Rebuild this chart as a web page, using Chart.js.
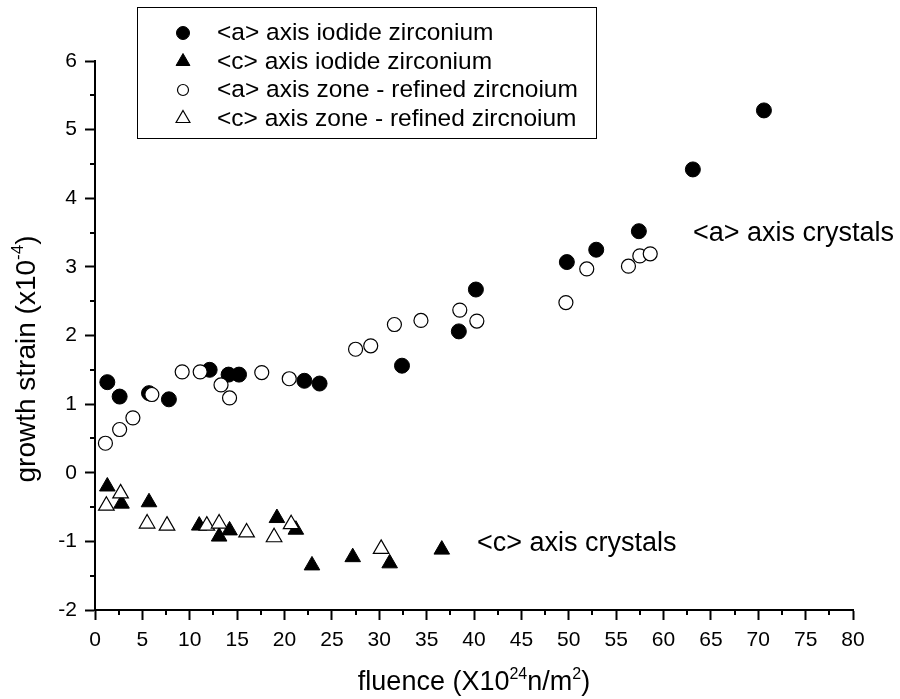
<!DOCTYPE html>
<html>
<head>
<meta charset="utf-8">
<title>Growth strain vs fluence</title>
<script src="https://cdn.jsdelivr.net/npm/chart.js@4.4.1/dist/chart.umd.min.js"></script>
<style>
  html, body { margin: 0; padding: 0; background: #fff; }
  #wrap { width: 900px; height: 699px; }
</style>
</head>
<body>
<div id="wrap"><canvas id="strainChart" width="900" height="699"></canvas></div>
<script>
const FONT = "'Liberation Sans', Arial, sans-serif";

// <a> axis, iodide zirconium
const aIodideFluence = [1.3, 2.6, 5.7, 7.8, 12.1, 14.1, 15.2, 22.1, 23.7, 32.4, 38.4, 40.2, 49.8, 52.9, 57.4, 63.1, 70.6];
const aIodideStrain  = [1.32, 1.11, 1.16, 1.07, 1.50, 1.43, 1.43, 1.34, 1.30, 1.56, 2.06, 2.67, 3.07, 3.25, 3.52, 4.42, 5.28];

// <c> axis, iodide zirconium
const cIodideFluence = [1.3, 2.8, 5.7, 11.0, 13.1, 14.2, 19.2, 21.2, 22.9, 27.2, 31.1, 36.6];
const cIodideStrain  = [-0.20, -0.45, -0.43, -0.77, -0.93, -0.84, -0.66, -0.83, -1.35, -1.23, -1.32, -1.12];

// <a> axis, zone-refined zirconium
const aZoneFluence = [1.1, 2.6, 4.0, 6.0, 9.2, 11.1, 13.3, 14.2, 17.6, 20.5, 27.5, 29.1, 31.6, 34.4, 38.5, 40.3, 49.7, 51.9, 56.3, 57.5, 58.6];
const aZoneStrain  = [0.43, 0.63, 0.80, 1.14, 1.47, 1.47, 1.28, 1.09, 1.46, 1.37, 1.80, 1.85, 2.16, 2.22, 2.37, 2.21, 2.48, 2.97, 3.01, 3.16, 3.19];

// <c> axis, zone-refined zirconium
const cZoneFluence = [1.2, 2.7, 5.5, 7.6, 11.8, 13.1, 16.0, 18.9, 20.7, 30.2];
const cZoneStrain  = [-0.48, -0.30, -0.74, -0.77, -0.77, -0.74, -0.87, -0.94, -0.75, -1.11];

const xTickValues = [0, 5, 10, 15, 20, 25, 30, 35, 40, 45, 50, 55, 60, 65, 70, 75, 80];
const yTickValues = [-2, -1, 0, 1, 2, 3, 4, 5, 6];

const seriesNames = [
  '<a> axis iodide zirconium',
  '<c> axis iodide zirconium',
  '<a> axis zone - refined zircnoium',
  '<c> axis zone - refined zircnoium'
];

function points(xs, ys) {
  return xs.map((x, i) => ({ x: x, y: ys[i] }));
}

function midpoints(vals) {
  const out = [];
  for (let i = 0; i < vals.length - 1; i++) out.push((vals[i] + vals[i + 1]) / 2);
  return out;
}

// text with superscript pieces, parts = [[text, isSup], ...]
function drawRich(ctx, parts, x, y, size, supSize, align) {
  let total = 0;
  parts.forEach(p => {
    ctx.font = (p[1] ? supSize : size) + 'px ' + FONT;
    total += ctx.measureText(p[0]).width;
  });
  let cx = align === 'center' ? x - total / 2 : x;
  ctx.textAlign = 'left';
  ctx.textBaseline = 'alphabetic';
  parts.forEach(p => {
    ctx.font = (p[1] ? supSize : size) + 'px ' + FONT;
    ctx.fillText(p[0], cx, p[1] ? y - size * 0.42 : y);
    cx += ctx.measureText(p[0]).width;
  });
}

// minor ticks, legend box, annotations and axis titles
const decorations = {
  id: 'decorations',
  afterDraw(chart) {
    const ctx = chart.ctx;
    const xs = chart.scales.x, ys = chart.scales.y;
    const area = chart.chartArea;
    ctx.save();
    ctx.strokeStyle = '#000';
    ctx.fillStyle = '#000';
    ctx.lineWidth = 2;
    ctx.beginPath();
    midpoints(xTickValues).forEach(v => {
      const px = Math.round(xs.getPixelForValue(v));
      ctx.moveTo(px, area.bottom);
      ctx.lineTo(px, area.bottom + 5);
    });
    midpoints(yTickValues).forEach(v => {
      const py = Math.round(ys.getPixelForValue(v));
      ctx.moveTo(area.left, py);
      ctx.lineTo(area.left - 5, py);
    });
    ctx.stroke();

    // legend
    ctx.lineWidth = 1;
    ctx.strokeRect(137.5, 7.5, 459, 131);
    const legendRadius = [6.5, 8, 5.5, 8];
    chart.data.datasets.forEach((ds, i) => {
      const cy = 33 + i * 28.5;
      ctx.fillStyle = ds.backgroundColor;
      ctx.strokeStyle = ds.borderColor;
      ctx.lineWidth = ds.borderWidth;
      Chart.helpers.drawPoint(ctx, {
        pointStyle: ds.pointStyle, radius: legendRadius[i], rotation: 0, borderWidth: ds.borderWidth
      }, 183, cy);
      ctx.fillStyle = '#000';
      ctx.font = '24.5px ' + FONT;
      ctx.textAlign = 'left';
      ctx.textBaseline = 'alphabetic';
      ctx.fillText(ds.label, 217, cy + 7);
    });

    // crystal orientation notes
    ctx.font = '27px ' + FONT;
    ctx.fillText('<a> axis crystals', 693, 241);
    ctx.fillText('<c> axis crystals', 477, 551);

    // axis titles
    drawRich(ctx, [['fluence (X10', false], ['24', true], ['n/m', false], ['2', true], [')', false]],
      (area.left + area.right) / 2, 690, 27, 16, 'center');
    ctx.translate(35, 359);
    ctx.rotate(-Math.PI / 2);
    drawRich(ctx, [['growth strain (x10', false], ['-4', true], [')', false]], 0, 0, 28, 17, 'center');
    ctx.restore();
  }
};

new Chart(document.getElementById('strainChart'), {
  type: 'scatter',
  data: {
    datasets: [
      {
        label: seriesNames[0],
        data: points(aIodideFluence, aIodideStrain),
        pointStyle: 'circle', pointRadius: 7.5,
        backgroundColor: '#000', borderColor: '#000', borderWidth: 1,
        order: 1
      },
      {
        label: seriesNames[1],
        data: points(cIodideFluence, cIodideStrain),
        pointStyle: 'triangle', pointRadius: 9,
        backgroundColor: '#000', borderColor: '#000', borderWidth: 1,
        order: 1
      },
      {
        label: seriesNames[2],
        data: points(aZoneFluence, aZoneStrain),
        pointStyle: 'circle', pointRadius: 7,
        backgroundColor: '#fff', borderColor: '#000', borderWidth: 1.2,
        order: 0
      },
      {
        label: seriesNames[3],
        data: points(cZoneFluence, cZoneStrain),
        pointStyle: 'triangle', pointRadius: 9,
        backgroundColor: '#fff', borderColor: '#000', borderWidth: 1.2,
        order: 0
      }
    ]
  },
  options: {
    responsive: false,
    animation: false,
    layout: { padding: { top: 61, right: 47, left: 0, bottom: 0 } },
    plugins: {
      legend: { display: false },
      tooltip: { enabled: false }
    },
    scales: {
      x: {
        type: 'linear',
        min: 0, max: 80,
        afterBuildTicks: s => { s.ticks = xTickValues.map(v => ({ value: v })); },
        afterFit: s => { s.height = 89; },
        border: { display: true, color: '#000', width: 2 },
        grid: { drawOnChartArea: false, drawTicks: true, tickLength: 10, tickColor: '#000', tickWidth: 2 },
        ticks: { color: '#000', font: { family: FONT, size: 21 }, padding: 8, maxRotation: 0 }
      },
      y: {
        type: 'linear',
        min: -2, max: 6,
        afterBuildTicks: s => { s.ticks = yTickValues.map(v => ({ value: v })); },
        afterFit: s => { s.width = 95; },
        border: { display: true, color: '#000', width: 2 },
        grid: { drawOnChartArea: false, drawTicks: true, tickLength: 10, tickColor: '#000', tickWidth: 2 },
        ticks: { color: '#000', font: { family: FONT, size: 21 }, padding: 8 }
      }
    }
  },
  plugins: [decorations]
});
</script>
</body>
</html>
